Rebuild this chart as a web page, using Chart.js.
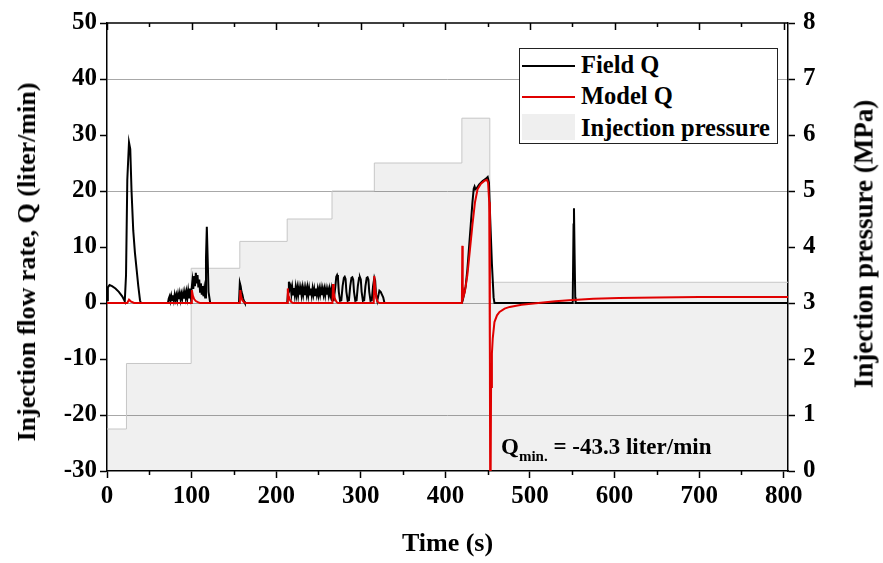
<!DOCTYPE html>
<html lang="en">
<head>
  <meta charset="UTF-8" />
  <title>Injection flow rate and pressure</title>
  <script src="https://cdn.jsdelivr.net/npm/chart.js"></script>
  <style>
    body { margin: 0; background: #fff; }
    #wrap { position: relative; width: 883px; height: 563px; font-family: "Liberation Serif", "Times New Roman", serif; font-weight: bold; color: #000; }
    #chart { position: absolute; left: 0; top: 0; }
    .ytitle { position: absolute; white-space: nowrap; transform: translate(-50%, -50%) rotate(-90deg); line-height: 1; }
    #legend { position: absolute; left: 519px; top: 48px; width: 257px; height: 94px; border: 1px solid #222; background: #fff; }
    #legend .ln { position: absolute; left: 2px; width: 53px; height: 2px; }
    #legend .tx { position: absolute; left: 61px; font-size: 24.5px; line-height: 24px; white-space: nowrap; }
    #legend .sw { position: absolute; left: 2px; top: 65px; width: 53px; height: 26px; background: #efefef; }
    #qmin { position: absolute; left: 501px; top: 435px; font-size: 23px; line-height: 23px; white-space: nowrap; }
    #qmin span { font-size: 15px; line-height: 0; position: relative; top: 7px; }
  </style>
</head>
<body>

<div id="wrap">
  <canvas id="chart" width="883" height="563"></canvas>
  <div class="ytitle" style="left:27px; top:262px; font-size:26px;">Injection flow rate, Q (liter/min)</div>
  <div class="ytitle" style="left:864px; top:244px; font-size:27px;">Injection pressure (MPa)</div>
  <div id="legend">
    <div class="ln" style="top:16px; background:#000;"></div>
    <div class="tx" style="top:4px;">Field Q</div>
    <div class="ln" style="top:47px; background:#e00000;"></div>
    <div class="tx" style="top:35px;">Model Q</div>
    <div class="sw"></div>
    <div class="tx" style="top:67px;">Injection pressure</div>
  </div>
  <div id="qmin">Q<span>min.</span> = -43.3 liter/min</div>
</div>

<script>
  // time (s) and flow rate (liter/min)
  const fieldT = [0, 1, 3, 6, 10, 14, 18, 20, 21, 22.5, 24, 26, 27.5, 29, 31, 33, 35, 37, 39, 40,
    72, 73, 74, 75, 76, 77, 78, 79, 80, 81, 82, 83, 84, 85, 86, 87, 88, 89, 90, 91, 92, 93, 94, 95, 96, 97, 98, 99,
    100, 101, 102, 103, 104, 105, 106, 107, 108, 109, 110, 111, 112, 113, 114, 115, 116, 117, 118, 119, 120, 121, 122,
    156, 157, 158, 159, 160, 161, 162, 163,
    213, 214, 215, 216, 217, 218, 219, 220, 221, 222, 223, 224, 225, 226, 227, 228, 229, 230, 231, 232, 233, 234, 235,
    236, 237, 238, 239, 240, 241, 242, 243, 244, 245, 246, 247, 248, 249, 250, 251, 252, 253, 254, 255, 256, 257, 258,
    259, 260, 261, 262, 263, 264, 265, 266,
    268, 270, 271, 272, 273, 274, 275.5, 277, 278.5, 280, 281, 282, 283, 284.5, 286, 287.5, 289, 290, 291, 292, 293.5,
    295, 296.5, 298, 299, 300, 301, 302.5, 304, 305.5, 307, 308, 309, 310, 311.5, 313, 314.5, 316, 317, 318, 319.5,
    321, 322, 323.5, 325, 326.5, 328,
    419.5, 420.5, 422, 424, 426, 428, 430, 432, 433.5, 434.5, 435.5, 437, 440, 444, 448, 450, 451.5, 453, 455, 457, 458,
    550.5, 551.5, 552, 552.7, 553.5, 554, 805];
  const fieldQ = [0.5, 2.8, 3.2, 3.0, 2.6, 2.0, 1.2, 0.6, 0.3, 5, 22, 28.7, 27.5, 20, 13, 9, 6, 3, 0.5, 0,
    0, 0.8, 1.2, 0.4, 1.3, 0.5, 1.4, 0.5, 1.5, 0.6, 1.4, 0.5, 1.6, 0.7, 1.7, 0.6, 1.6, 0.8, 1.8, 0.8, 1.9, 0.9, 2.0, 0.9, 2.2, 1.0, 2.6, 1.2,
    2.5, 4.0, 2.5, 4.8, 3.0, 5.4, 3.5, 5.0, 2.8, 4.2, 2.0, 3.5, 1.5, 3.0, 1.2, 2.5, 1.0, 8, 13.6, 8, 2, 1.0, 0,
    0, 3.6, 3.0, 2.0, 1.5, 0.8, 0.3, 0,
    0, 2.0, 3.8, 2.5, 3.0, 1.6, 2.8, 1.5, 2.7, 1.4, 2.8, 1.5, 2.7, 1.4, 2.7, 1.5, 2.6, 1.4, 2.7, 1.5, 2.6, 1.4, 2.6,
    1.5, 2.7, 1.4, 2.6, 1.5, 2.6, 1.4, 2.6, 1.5, 2.5, 1.4, 2.6, 1.5, 2.5, 1.4, 2.5, 1.5, 2.6, 1.4, 2.5, 1.5, 2.5, 1.4,
    2.5, 1.5, 2.4, 1.4, 2.5, 1.5, 2.4, 0.5,
    0.5, 3.0, 4.7, 5.0, 4.5, 2.0, 0.4, 0.5, 3.0, 4.5, 4.7, 4.3, 2.0, 0.4, 0.5, 3.0, 4.5, 4.6, 4.2, 2.0, 0.4,
    0.5, 3.0, 4.5, 4.6, 4.2, 2.0, 0.4, 0.5, 3.0, 4.5, 4.6, 4.2, 2.0, 0.4, 0.5, 3.0, 4.5, 4.0, 1.5, 0.4,
    1.5, 2.2, 2.0, 1.5, 1.0, 0,
    0, 0.5, 1.5, 3, 6, 10, 14, 18, 20.4, 20.8, 20.3, 20.5, 21.2, 21.8, 22.2, 22.5, 21.5, 15, 7, 1, 0,
    0, 14, 16.9, 9, 1, 0, 0];

  const modelT = [0, 24, 26, 28, 32, 99.5, 100.3, 101.5, 103, 105, 108, 110,
    157, 157.6, 158.5, 160, 162, 164,
    213, 213.7, 214.5, 216, 218, 220,
    266.5, 267.2, 268, 269.5, 271.5, 273,
    315.3, 316, 317, 318.5, 320, 322,
    419.5, 420, 420.5, 421.5, 423, 426, 429, 432, 435, 438, 442, 446, 449, 450.5, 451.8, 452.6, 453.1, 454, 455, 456,
    458, 461, 464, 470, 476, 490, 507, 530, 546, 575, 605, 650, 700, 805];
  const modelQ = [0, 0, 0.6, 0.3, 0, 0, 2.3, 1.3, 0.7, 0.35, 0.1, 0,
    0, 2.3, 1.2, 0.5, 0.1, 0,
    0, 2.6, 1.4, 0.6, 0.15, 0,
    0, 3.4, 1.8, 0.7, 0.15, 0,
    0, 4.8, 2.5, 0.8, 0.2, 0,
    0, 10.2, 3, 1.2, 2.0, 5, 9.5, 14, 18, 20.3, 21.3, 21.8, 22.0, 21.5, 18, -10, -43.3, -15, -9, -6.3,
    -3.4, -2.2, -1.6, -1.0, -0.7, -0.3, -0.05, 0.3, 0.5, 0.75, 0.9, 1.0, 1.05, 1.05];

  // injection pressure (MPa), value holds from each time on
  const pressT = [0, 23, 99.5, 157, 213, 266, 316, 419.5, 452.5, 805];
  const pressP = [0.75, 1.92, 3.62, 4.1, 4.5, 5.0, 5.5, 6.3, 3.37, 3.37];

  const timeMinor = [50, 150, 250, 350, 450, 550, 650, 750];
  const timeMajor = [0, 100, 200, 300, 400, 500, 600, 700, 800];

  const font = "'Liberation Serif', 'Times New Roman', serif";
  const pts = (xs, ys) => xs.map((x, i) => ({ x: x, y: ys[i] }));

  // top frame line with inward ticks, plus minor ticks on the time axis
  const frame = {
    id: 'frame',
    afterDraw(chart) {
      const c = chart.ctx, a = chart.chartArea, x = chart.scales.x;
      c.save();
      c.strokeStyle = '#000';
      c.lineWidth = 1.5;
      c.beginPath();
      c.moveTo(a.left, a.top);
      c.lineTo(a.right, a.top);
      timeMajor.forEach(v => {
        const px = Math.round(x.getPixelForValue(v)) + 0.5;
        c.moveTo(px, a.top); c.lineTo(px, a.top + 7);
      });
      timeMinor.forEach(v => {
        const px = Math.round(x.getPixelForValue(v)) + 0.5;
        c.moveTo(px, a.top); c.lineTo(px, a.top + 4);
        c.moveTo(px, a.bottom); c.lineTo(px, a.bottom + 4);
      });
      c.stroke();
      c.restore();
    }
  };

  new Chart(document.getElementById('chart'), {
    type: 'line',
    data: {
      datasets: [
        {
          label: 'Model Q',
          data: pts(modelT, modelQ),
          yAxisID: 'y',
          borderColor: '#e00000',
          borderWidth: 2,
          pointRadius: 0,
          order: 0
        },
        {
          label: 'Field Q',
          data: pts(fieldT, fieldQ),
          yAxisID: 'y',
          borderColor: '#000',
          borderWidth: 2,
          pointRadius: 0,
          order: 1
        },
        {
          label: 'Injection pressure',
          data: pts(pressT, pressP),
          yAxisID: 'yP',
          stepped: true,
          borderColor: '#c6c6c6',
          borderWidth: 1,
          backgroundColor: 'rgba(0,0,0,0.06)',
          fill: 'start',
          pointRadius: 0,
          order: 2
        }
      ]
    },
    options: {
      responsive: false,
      animation: false,
      layout: { padding: { top: 18, left: 0, right: 0, bottom: 0 } },
      plugins: { legend: { display: false }, tooltip: { enabled: false } },
      scales: {
        x: {
          type: 'linear',
          position: 'bottom',
          min: 0,
          max: 805,
          afterFit: s => { s.height = 92; },
          afterBuildTicks: s => { s.ticks = timeMajor.map(v => ({ value: v })); },
          ticks: { maxRotation: 0, autoSkip: false, padding: 4, color: '#000',
                   font: { family: font, size: 25, weight: 'bold' } },
          grid: { drawOnChartArea: false, tickLength: 7, tickColor: '#000', tickWidth: 1.5 },
          border: { color: '#000', width: 1.5 },
          title: { display: true, text: 'Time (s)', color: '#000', padding: { top: 0, bottom: 3 },
                   font: { family: font, size: 26, weight: 'bold' } }
        },
        y: {
          position: 'left',
          min: -30,
          max: 50,
          afterFit: s => { s.width = 107; },
          ticks: { stepSize: 10, padding: 3, color: '#000', font: { family: font, size: 25, weight: 'bold' } },
          grid: {
            color: ctx => (ctx.tick && ctx.tick.value % 20 === 0 && ctx.tick.value > -30 && ctx.tick.value < 50) ? '#a8a8a8' : 'rgba(0,0,0,0)',
            lineWidth: 1, tickLength: 7, tickColor: '#000', tickWidth: 1.5
          },
          border: { color: '#000', width: 1.5 }
        },
        yP: {
          position: 'right',
          min: 0,
          max: 8,
          afterFit: s => { s.width = 95; },
          ticks: { stepSize: 1, padding: 8, color: '#000', font: { family: font, size: 25, weight: 'bold' } },
          grid: { drawOnChartArea: false, tickLength: 7, tickColor: '#000', tickWidth: 1.5 },
          border: { color: '#000', width: 1.5 }
        }
      }
    },
    plugins: [frame]
  });
</script>

</body>
</html>
